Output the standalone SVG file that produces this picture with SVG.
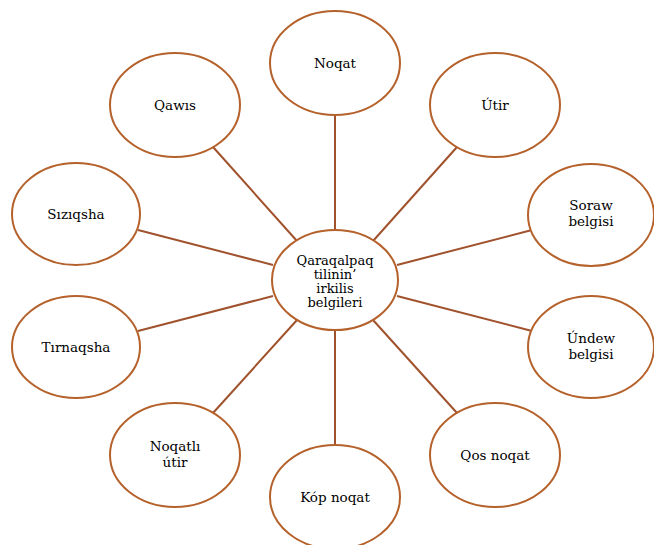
<svg xmlns="http://www.w3.org/2000/svg" width="654" height="545" viewBox="0 0 654 545">
<style>
.n ellipse{fill:#fff;stroke:#B5612B;stroke-width:2}
.n text{font-family:"DejaVu Serif","Liberation Serif",serif;font-size:13.5px;fill:#000;text-anchor:middle}
#center text{font-size:13px}
.c line{stroke:#A0522D;stroke-width:2}
</style>
<rect width="654" height="545" fill="#fff"/>
<g class="c" id="connectors">
<line x1="335" y1="115" x2="335" y2="230"/>
<line x1="335" y1="330" x2="335" y2="446"/>
<line x1="213" y1="147" x2="297" y2="241"/>
<line x1="457" y1="147" x2="373" y2="241"/>
<line x1="138" y1="230" x2="273" y2="265"/>
<line x1="532" y1="230" x2="397" y2="265"/>
<line x1="138" y1="331" x2="273" y2="296"/>
<line x1="532" y1="331" x2="397" y2="296"/>
<line x1="213" y1="413" x2="297" y2="320"/>
<line x1="457" y1="413" x2="373" y2="320"/>
</g>
<g class="n" id="center"><ellipse cx="335" cy="280" rx="63" ry="50"/>
<text x="335" y="265">Qaraqalpaq</text><text x="335" y="279">tilinin’</text><text x="335" y="293">irkilis</text><text x="335" y="307">belgileri</text></g>
<g class="n" id="noqat"><ellipse cx="335" cy="63" rx="65" ry="52"/><text x="335" y="68">Noqat</text></g>
<g class="n" id="qawis"><ellipse cx="175" cy="105" rx="65" ry="52"/><text x="175" y="110">Qawıs</text></g>
<g class="n" id="utir"><ellipse cx="495" cy="105" rx="65" ry="52"/><text x="495" y="110">Útir</text></g>
<g class="n" id="siziqsha"><ellipse cx="76" cy="214" rx="64" ry="51"/><text x="76" y="219">Sızıqsha</text></g>
<g class="n" id="soraw"><ellipse cx="591" cy="215" rx="63" ry="51"/><text x="591" y="210">Soraw</text><text x="591" y="226">belgisi</text></g>
<g class="n" id="tirnaqsha"><ellipse cx="76" cy="347" rx="64" ry="51"/><text x="76" y="352">Tırnaqsha</text></g>
<g class="n" id="undew"><ellipse cx="591" cy="347" rx="63" ry="51"/><text x="591" y="343">Úndew</text><text x="591" y="359">belgisi</text></g>
<g class="n" id="noqatli"><ellipse cx="175" cy="455" rx="65" ry="52"/><text x="175" y="451">Noqatlı</text><text x="175" y="467">útir</text></g>
<g class="n" id="qos"><ellipse cx="495" cy="455" rx="65" ry="52"/><text x="495" y="460">Qos noqat</text></g>
<g class="n" id="kop"><ellipse cx="335" cy="497" rx="65" ry="52"/><text x="335" y="502">Kóp noqat</text></g>
</svg>
